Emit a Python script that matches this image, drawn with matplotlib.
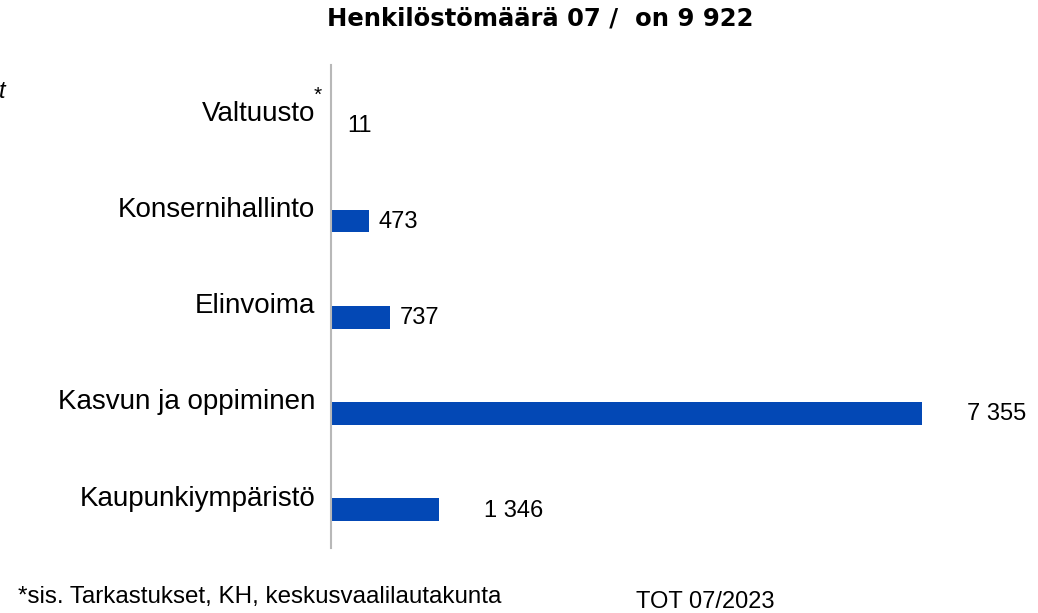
import matplotlib
matplotlib.use('Agg')
import matplotlib.pyplot as plt

# data
categories = ['Valtuusto', 'Konsernihallinto', 'Elinvoima', 'Kasvun ja oppiminen', 'Kaupunkiympäristö']
values = [11, 473, 737, 7355, 1346]
label_pads = [15, 9, 10, 45, 45]  # pixels between bar end and value label

title = 'Henkilöstömäärä 07 /  on 9 922'
footnote = '*sis. Tarkastukset, KH, keskusvaalilautakunta'
source = 'TOT 07/2023'

bar_color = '#0348B5'
plt.rcParams['font.family'] = ['Liberation Sans', 'DejaVu Sans']

fig = plt.figure(figsize=(10.38, 6.13), dpi=100)
ax = fig.add_axes([331 / 1038, 65 / 613, 707 / 1038, 483 / 613])

ypos = list(range(len(categories)))
ax.barh(ypos, values, height=0.235, color=bar_color)
ax.set_xlim(0, 8797)
ax.set_ylim(4.4, -0.625)

for s in ['top', 'right', 'bottom']:
    ax.spines[s].set_visible(False)
ax.spines['left'].set_color('#b8b8b8')
ax.spines['left'].set_linewidth(1.5)
ax.set_xticks([])
ax.set_yticks([])

def fmt(v):
    return f'{v:,}'.replace(',', ' ')

# category labels and values
for i, (cat, v, pad) in enumerate(zip(categories, values, label_pads)):
    ax.annotate(cat, xy=(0, i), xycoords=('axes fraction', 'data'),
                xytext=(-16, 4), textcoords='offset pixels',
                ha='right', va='baseline', fontsize=20, color='black')
    ax.annotate(fmt(v), xy=(v, i), xycoords='data',
                xytext=(pad, -1), textcoords='offset pixels',
                ha='left', va='center', fontsize=17, color='black')

# asterisk next to Valtuusto
ax.annotate('*', xy=(0, 0), xycoords=('axes fraction', 'data'),
            xytext=(-13, 24), textcoords='offset pixels',
            ha='center', va='baseline', fontsize=15, color='black')

fig.text(540 / 1038, 1 - 18 / 613, title, ha='center', va='center',
         fontsize=17.5, fontweight='bold', family='DejaVu Sans')
fig.text(-1 / 1038, 1 - 98 / 613, 't', ha='left', va='baseline',
         fontsize=17, style='italic')
fig.text(18 / 1038, 1 - 603 / 613, footnote, ha='left', va='baseline', fontsize=17.4)
fig.text(636 / 1038, 1 - 608 / 613, source, ha='left', va='baseline', fontsize=17)

fig.savefig('out.png', dpi=100)
